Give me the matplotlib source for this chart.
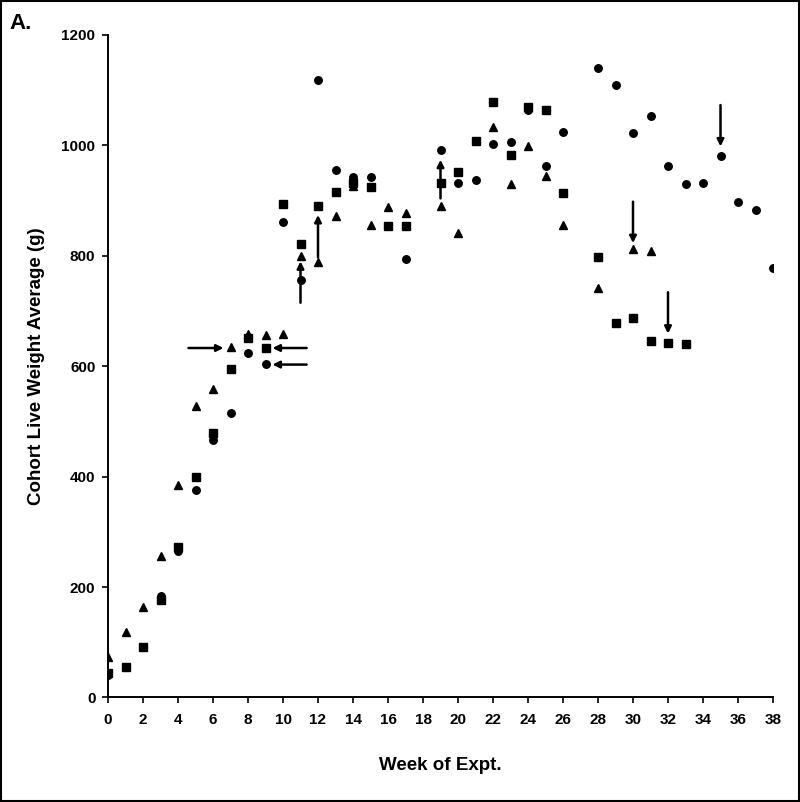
import matplotlib
matplotlib.use("Agg")
from matplotlib import pyplot as plt
from matplotlib.patches import Rectangle
import numpy as np

plt.rcParams["font.family"] = ["Liberation Sans", "DejaVu Sans"]
plt.rcParams["font.weight"] = "bold"

nan = np.nan
weeks = np.arange(0, 39)

circle_vals = [40, nan, nan, 183, 265, 376, 467, 516, 624, 604,
               862, 757, 1118, 956, 942, 942, nan, 794, nan, 992,
               932, 938, 1002, 1007, 1065, 963, 1025, nan, 1141, 1110,
               1022, 1053, 963, 930, 932, 980, 897, 883, 778]

square_vals = [44, 56, 92, 176, 272, 400, 479, 595, 651, 633,
               894, 821, 890, 916, 932, 925, 854, 854, nan, 931,
               951, 1008, 1079, 983, 1070, 1065, 913, nan, 798, 679,
               687, 646, 642, 640, nan, nan, nan, nan, nan]

triangle_vals = [74, 119, 164, 257, 384, 528, 559, 635, 659, 657,
                 659, 799, 788, 873, 926, 855, 888, 878, nan, 890,
                 842, nan, 1033, 930, 998, 945, 856, nan, 741, nan,
                 812, 809, nan, nan, nan, nan, nan, nan, nan]

# arrows: (x_tail, y_tail, x_head, y_head) in data units
arrows = [
    (4.6, 633, 6.6, 633),
    (11.35, 633, 9.4, 633),
    (11.35, 603, 9.4, 603),
    (11, 715, 11, 790),
    (12, 797, 12, 874),
    (19, 904, 19, 974),
    (30, 898, 30, 823),
    (32, 734, 32, 659),
    (35, 1073, 35, 998),
]

fig = plt.figure(figsize=(8, 8.02), dpi=100)
ax = fig.add_axes([0.135, 0.1303, 0.83125, 0.8261])

ax.plot(weeks, circle_vals, "o", color="black", markersize=5.4, linestyle="none")
ax.plot(weeks, square_vals, "s", color="black", markersize=5.2, linestyle="none")
ax.plot(weeks, triangle_vals, "^", color="black", markersize=5.4, linestyle="none")

for x0, y0, x1, y1 in arrows:
    ax.annotate("", xy=(x1, y1), xytext=(x0, y0),
                arrowprops=dict(arrowstyle="-|>", color="black", lw=1.8,
                                mutation_scale=10, shrinkA=0, shrinkB=0))

ax.set_xlim(0, 38)
ax.set_ylim(0, 1200)
ax.set_xticks(np.arange(0, 39, 2))
ax.set_yticks(np.arange(0, 1201, 200))
ax.spines["top"].set_visible(False)
ax.spines["right"].set_visible(False)
ax.spines["left"].set_linewidth(1.4)
ax.spines["bottom"].set_linewidth(1.4)
ax.tick_params(direction="out", length=4, width=1.2, labelsize=11)
ax.tick_params(axis="x", pad=7)
ax.tick_params(axis="y", pad=5)
for lbl in ax.get_xticklabels() + ax.get_yticklabels():
    lbl.set_fontweight("bold")

ax.set_ylabel("Cohort Live Weight Average (g)", fontsize=13.5, fontweight="bold", labelpad=12)
ax.set_xlabel("Week of Expt.", fontsize=13.5, fontweight="bold", labelpad=22)

fig.text(0.012, 0.984, "A.", fontsize=16, fontweight="bold", ha="left", va="top")
fig.add_artist(Rectangle((0.001, 0.001), 0.998, 0.998, transform=fig.transFigure,
                         fill=False, edgecolor="black", linewidth=1.5))

fig.savefig("out.png", dpi=100)
